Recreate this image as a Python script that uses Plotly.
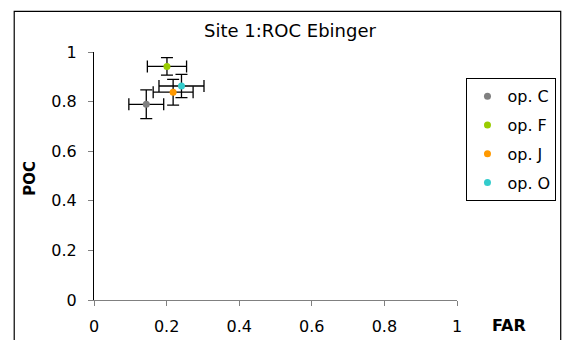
import plotly.graph_objects as go

names = ["op. C", "op. F", "op. J", "op. O"]
far = [0.144, 0.201, 0.218, 0.241]
poc = [0.789, 0.942, 0.838, 0.863]
far_err = [0.048, 0.054, 0.055, 0.062]
poc_err = [0.058, 0.035, 0.052, 0.047]
colors = ["#808080", "#99cc00", "#ff9900", "#33cccc"]
xticks = [0, 0.2, 0.4, 0.6, 0.8, 1]
yticks = [0, 0.2, 0.4, 0.6, 0.8, 1]

FONT = "DejaVu Sans, Liberation Sans, Arial, sans-serif"

fig = go.Figure()
for i, n in enumerate(names):
    fig.add_trace(go.Scatter(
        x=[far[i]], y=[poc[i]], mode="markers", name=n,
        legendgroup=n,
        marker=dict(color=colors[i], size=7, line=dict(width=0)),
        error_x=dict(type="data", array=[far_err[i]], color="black", thickness=1.3, width=6),
        error_y=dict(type="data", array=[poc_err[i]], color="black", thickness=1.3, width=6),
    ))

L, T, R, B = 93.5, 51.7, 106.5, 40
W, H = 564, 340
pw = W - L - R
ph = H - T - B

def px(x):
    return (x - L) / pw

def py(y):
    return (H - B - y) / ph

fig.update_layout(
    width=W, height=H,
    margin=dict(l=L, r=R, t=T, b=B, autoexpand=False),
    paper_bgcolor="white", plot_bgcolor="white",
    font=dict(family=FONT, size=16, color="black"),
    showlegend=True,
    legend=dict(
        x=px(467), y=py(78), xanchor="left", yanchor="top",
        bordercolor="black", borderwidth=1,
        font=dict(size=16, family=FONT),
        tracegroupgap=5, itemwidth=30,
    ),
    xaxis=dict(
        range=[0, 1], tickvals=xticks, ticktext=[f"{v:g}" for v in xticks],
        showgrid=False, zeroline=False, showline=True, linecolor="#808080", linewidth=1,
        ticks="outside", ticklen=5, tickcolor="#808080", ticklabelstandoff=7,
        tickfont=dict(size=16),
    ),
    yaxis=dict(
        range=[0, 1], tickvals=yticks, ticktext=[f"{v:g}" for v in yticks],
        showgrid=False, zeroline=False, showline=True, linecolor="black", linewidth=1,
        ticks="outside", ticklen=5, tickcolor="#808080", ticklabelstandoff=8,
        tickfont=dict(size=16),
    ),
    shapes=[dict(type="rect", xref="paper", yref="paper",
                 x0=px(13.5), x1=px(561.5), y0=py(11), y1=py(345),
                 line=dict(color="black", width=1.2))],
    annotations=[
        dict(text="Site 1:ROC Ebinger", xref="paper", yref="paper",
             x=px(290), y=py(30), xanchor="center", yanchor="middle",
             showarrow=False, font=dict(size=18)),
        dict(text="<b>FAR</b>", xref="paper", yref="paper",
             x=px(510), y=py(326), xanchor="center", yanchor="middle",
             showarrow=False, font=dict(size=16)),
        dict(text="<b>POC</b>", xref="paper", yref="paper",
             x=px(29), y=py(178), xanchor="center", yanchor="middle",
             showarrow=False, textangle=-90, font=dict(size=15)),
    ],
)

fig.write_html("out.html")
